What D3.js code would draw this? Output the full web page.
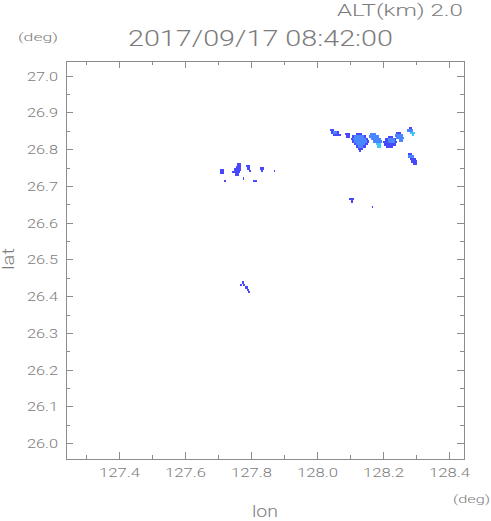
<!DOCTYPE html>
<html>
<head>
<meta charset="utf-8">
<script src="https://cdn.jsdelivr.net/npm/d3@7"></script>
<style>
  body { margin: 0; background: #fff; }
  text { font-family: Roboto, "DejaVu Sans", sans-serif; font-weight: 300; fill: #7c7c7c; }
</style>
</head>
<body>
<div id="chart"></div>
<script>
// echo cells, one run per row: [lat, lonStart, lonEnd, level]
const rowsUpper = [
  [26.852, 128.038, 128.050, 1], [26.845, 128.041, 128.065, 1], [26.845, 128.047, 128.059, 2], [26.839, 128.047, 128.071, 1],
  [26.841, 128.083, 128.099, 1], [26.835, 128.087, 128.099, 1],
  [26.841, 128.117, 128.135, 1], [26.835, 128.105, 128.147, 1], [26.828, 128.102, 128.153, 1], [26.821, 128.105, 128.156, 1],
  [26.814, 128.111, 128.153, 1], [26.807, 128.117, 128.147, 1], [26.801, 128.123, 128.138, 1], [26.795, 128.126, 128.132, 1],
  [26.835, 128.111, 128.141, 2], [26.828, 128.108, 128.147, 2], [26.821, 128.111, 128.150, 2], [26.814, 128.117, 128.144, 2],
  [26.807, 128.123, 128.138, 2],
  [26.841, 128.159, 128.177, 2], [26.835, 128.156, 128.186, 2], [26.828, 128.162, 128.193, 2], [26.821, 128.168, 128.196, 2],
  [26.814, 128.177, 128.193, 3], [26.807, 128.180, 128.193, 3],
  [26.833, 128.214, 128.229, 1], [26.826, 128.205, 128.238, 1], [26.820, 128.199, 128.241, 1], [26.813, 128.202, 128.238, 1],
  [26.806, 128.208, 128.229, 1], [26.826, 128.214, 128.235, 2], [26.820, 128.214, 128.235, 2],
  [26.844, 128.238, 128.253, 1], [26.837, 128.235, 128.259, 2], [26.831, 128.238, 128.262, 2], [26.824, 128.247, 128.259, 2],
  [26.858, 128.277, 128.286, 1], [26.851, 128.271, 128.289, 2], [26.844, 128.280, 128.296, 3], [26.839, 128.286, 128.292, 3],
  [26.787, 128.274, 128.286, 1], [26.780, 128.274, 128.292, 2], [26.773, 128.280, 128.299, 1], [26.767, 128.283, 128.302, 1],
  [26.760, 128.289, 128.302, 1],
  [26.665, 128.096, 128.111, 1], [26.658, 128.102, 128.108, 1], [26.643, 128.164, 128.167, 1]
];
const rowsLeft = [
  [26.742, 127.705, 127.717, 1], [26.735, 127.705, 127.717, 1],
  [26.758, 127.756, 127.768, 1], [26.752, 127.753, 127.768, 1], [26.745, 127.747, 127.768, 1],
  [26.738, 127.741, 127.765, 1], [26.731, 127.750, 127.762, 1],
  [26.754, 127.783, 127.796, 1], [26.748, 127.786, 127.796, 1], [26.741, 127.793, 127.799, 1],
  [26.748, 127.826, 127.838, 1], [26.741, 127.829, 127.835, 1],
  [26.741, 127.868, 127.871, 1],
  [26.714, 127.717, 127.723, 1], [26.720, 127.774, 127.777, 1], [26.714, 127.805, 127.817, 1]
];
const rowsSouth = [
  [26.437, 127.771, 127.777, 1], [26.431, 127.765, 127.771, 1], [26.431, 127.774, 127.780, 1],
  [26.424, 127.780, 127.790, 1], [26.417, 127.786, 127.793, 1], [26.412, 127.790, 127.796, 1]
];
const levels = [1, 2, 3];
const levelColors = ["#4848ff", "#4a86ff", "#3cc8ff"];

const lonTicks = [127.4, 127.6, 127.8, 128.0, 128.2, 128.4];
const lonMinor = [127.3, 127.5, 127.7, 127.9, 128.1, 128.3];
const latTicks = [26.0, 26.1, 26.2, 26.3, 26.4, 26.5, 26.6, 26.7, 26.8, 26.9, 27.0];
const latMinor = [25.95, 26.05, 26.15, 26.25, 26.35, 26.45, 26.55, 26.65, 26.75, 26.85, 26.95];

const titleText = "2017/09/17 08:42:00";
const altText = "ALT(km) 2.0";

const width = 491, height = 521;
const plotL = 66, plotR = 464, plotT = 61, plotB = 459;
const rowHeight = 0.007;

const svg = d3.select("#chart").append("svg")
    .attr("width", width)
    .attr("height", height);

const x = d3.scaleLinear().domain([127.238, 128.444]).range([plotL, plotR]);
const y = d3.scaleLinear().domain([25.957, 27.04]).range([plotB, plotT]);
const color = d3.scaleOrdinal().domain(levels).range(levelColors);

const allRows = rowsUpper.concat(rowsLeft, rowsSouth);
svg.append("g").selectAll("rect")
    .data(allRows)
    .enter().append("rect")
    .attr("x", d => x(d[1]))
    .attr("y", d => y(d[0] + rowHeight / 2))
    .attr("width", d => Math.max(1, x(d[2]) - x(d[1])))
    .attr("height", d => y(d[0] - rowHeight / 2) - y(d[0] + rowHeight / 2))
    .attr("fill", d => color(d[3]))
    .attr("shape-rendering", "crispEdges");

// frame with inward ticks on every side
const axisColor = "#8c8c8c";
svg.append("rect")
    .attr("x", plotL + 0.5).attr("y", plotT + 0.5)
    .attr("width", plotR - plotL).attr("height", plotB - plotT)
    .attr("fill", "none").attr("stroke", axisColor).attr("stroke-width", 1);

function ticksX(values, len) {
    values.forEach(v => {
        const px = Math.round(x(v)) + 0.5;
        svg.append("line").attr("x1", px).attr("x2", px).attr("y1", plotB).attr("y2", plotB - len).attr("stroke", axisColor);
        svg.append("line").attr("x1", px).attr("x2", px).attr("y1", plotT).attr("y2", plotT + len).attr("stroke", axisColor);
    });
}
function ticksY(values, len) {
    values.forEach(v => {
        const py = Math.round(y(v)) + 0.5;
        svg.append("line").attr("y1", py).attr("y2", py).attr("x1", plotL).attr("x2", plotL + len).attr("stroke", axisColor);
        svg.append("line").attr("y1", py).attr("y2", py).attr("x1", plotR).attr("x2", plotR - len).attr("stroke", axisColor);
    });
}
ticksX(lonTicks, 7);
ticksX(lonMinor, 4);
ticksY(latTicks, 7);
ticksY(latMinor.filter(v => y(v) < plotB), 4);

lonTicks.forEach(v => {
    svg.append("text")
        .attr("x", x(v))
        .attr("y", 477)
        .attr("text-anchor", "middle")
        .attr("font-size", "13px")
        .attr("textLength", 41)
        .attr("lengthAdjust", "spacingAndGlyphs")
        .text(d3.format(".1f")(v));
});
latTicks.forEach(v => {
    svg.append("text")
        .attr("x", 58)
        .attr("y", y(v) + 5)
        .attr("text-anchor", "end")
        .attr("font-size", "13px")
        .attr("textLength", 31)
        .attr("lengthAdjust", "spacingAndGlyphs")
        .text(d3.format(".1f")(v));
});

svg.append("text")
    .attr("x", 128).attr("y", 46)
    .attr("font-size", "22px")
    .attr("textLength", 265)
    .attr("lengthAdjust", "spacingAndGlyphs")
    .text(titleText);

svg.append("text")
    .attr("x", 337).attr("y", 16)
    .attr("font-size", "17px")
    .attr("textLength", 126)
    .attr("lengthAdjust", "spacingAndGlyphs")
    .text(altText);

svg.append("text")
    .attr("x", 18).attr("y", 41)
    .attr("font-size", "11px")
    .attr("textLength", 40)
    .attr("lengthAdjust", "spacingAndGlyphs")
    .text("(deg)");

svg.append("text")
    .attr("x", 453).attr("y", 503)
    .attr("font-size", "11px")
    .attr("textLength", 37)
    .attr("lengthAdjust", "spacingAndGlyphs")
    .text("(deg)");

svg.append("text")
    .attr("x", 265).attr("y", 517)
    .attr("text-anchor", "middle")
    .attr("font-size", "16px")
    .attr("textLength", 26)
    .attr("lengthAdjust", "spacingAndGlyphs")
    .text("lon");

svg.append("text")
    .attr("transform", "translate(14,259) rotate(-90)")
    .attr("text-anchor", "middle")
    .attr("font-size", "16px")
    .attr("textLength", 22)
    .attr("lengthAdjust", "spacingAndGlyphs")
    .text("lat");
</script>
</body>
</html>
